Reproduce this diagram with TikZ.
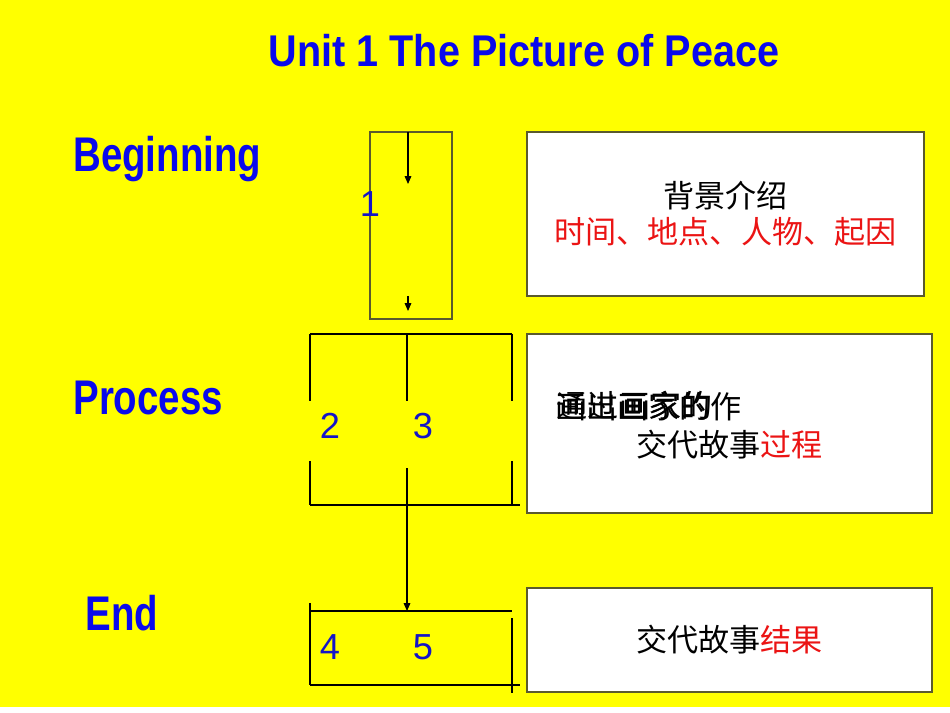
\documentclass[tikz,border=0pt]{standalone}
\usepackage{fontspec}
\setmainfont{Liberation Sans}
\newfontfamily\cjk{Noto Sans CJK SC}
\newfontfamily\titlefont{Liberation Sans}[FakeStretch=0.89]
\newfontfamily\partfont{Liberation Sans}[FakeStretch=0.79]
\usepackage{tikz}
\usetikzlibrary{arrows.meta}
\usetikzlibrary{positioning}

\definecolor{slideyellow}{RGB}{255,255,0}
\definecolor{headblue}{RGB}{10,10,235}
\definecolor{numblue}{RGB}{20,20,200}
\definecolor{frameline}{RGB}{90,90,45}
\definecolor{storyred}{RGB}{235,20,20}

\begin{document}
\begin{tikzpicture}[x=0.2mm,y=-0.2mm]
	\useasboundingbox (0,0) rectangle (950,713);
	\fill[slideyellow] (0,0) rectangle (950,707);
	\fill[white] (0,707) rectangle (950,713);

	% title and parts
	\node[anchor=base, inner sep=0pt, text=headblue,
	      font=\titlefont\bfseries\fontsize{25.3}{30}\selectfont] (title) at (524,67) {Unit 1 The Picture of Peace};
	\begin{scope}[every node/.style={anchor=base west, inner sep=0pt, text=headblue,
	              font=\partfont\bfseries\fontsize{27.7}{32}\selectfont}]
		\node (beginning) at (73,172) {Beginning};
		\node (process) at (73,414) {Process};
		\node (end) at (85,630) {End};
	\end{scope}

	% story boxes
	\begin{scope}[every node/.style={draw=frameline, line width=0.9pt, fill=white,
	              align=center, font=\cjk\fontsize{17.7}{20.4}\selectfont}]
		\node[minimum width=79.4mm, minimum height=32.8mm] (box1) at (725.5,214)
			{背景介绍\\ \textcolor{storyred}{时间、地点、人物、起因}};
		\node[minimum width=81mm, minimum height=35.8mm] (box2) at (729.5,423.5) {};
		\node[minimum width=81mm, minimum height=20.8mm] (box3) at (729.5,640)
			{交代故事\textcolor{storyred}{结果}};
	\end{scope}
	\begin{scope}[every node/.style={inner sep=0pt, font=\cjk\fontsize{17.7}{20.4}\selectfont}]
		\node[anchor=west] (recall1) at (555,407) {画出画家的作};
		\node[anchor=west] (recall2) at (556.5,406) {通过画家的};
		\node (course) at (729.5,445) {交代故事\textcolor{storyred}{过程}};
	\end{scope}

	% left frames
	\coordinate (b1nw) at (370,132);
	\coordinate (b1se) at (452,319);
	\coordinate (a1) at (408,132);
	\coordinate (a1e) at (408,184);
	\coordinate (a2) at (408,296);
	\coordinate (a2e) at (408,311);
	\coordinate (pnw) at (310,334);
	\coordinate (pne) at (512,334);
	\coordinate (pnm) at (407,334);
	\coordinate (pml) at (310,401);
	\coordinate (pmm) at (407,401);
	\coordinate (pmr) at (512,401);
	\coordinate (pbl) at (310,461);
	\coordinate (pbr) at (512,461);
	\coordinate (psw) at (310,505);
	\coordinate (pse) at (512,505);
	\coordinate (pbe) at (520,505);
	\coordinate (pdown) at (407,468);
	\coordinate (enw) at (310,611);
	\coordinate (ene) at (512,611);
	\coordinate (enm) at (407,611);
	\coordinate (elt) at (310,603);
	\coordinate (ert) at (512,618);
	\coordinate (esw) at (310,685);
	\coordinate (ese) at (520,685);
	\coordinate (erb) at (512,693);

	\begin{scope}[frameline, line width=0.6pt]
		\draw (b1nw) rectangle (b1se);
	\end{scope}
	\begin{scope}[black, line width=0.6pt, >={Triangle[length=4.5pt,width=3.8pt]}]
		\draw (pnw) -- (pne);
		\draw (pnw) -- (pml);
		\draw (pbl) -- (psw);
		\draw (pnm) -- (pmm);
		\draw (pne) -- (pmr);
		\draw (pbr) -- (pse);
		\draw (psw) -- (pbe);
		\draw (enw) -- (ene);
		\draw (elt) -- (esw);
		\draw (ert) -- (erb);
		\draw (esw) -- (ese);
		\draw[->] (a1) -- (a1e);
		\draw[->] (a2) -- (a2e);
		\draw[->] (pdown) -- (enm);
	\end{scope}

	% numbers
	\begin{scope}[every node/.style={inner sep=0pt, text=numblue, font=\fontsize{20.6}{24}\selectfont}]
		\node (n1) at (370,204) {1};
		\node (n2) at (330,426) {2};
		\node (n3) at (423,426) {3};
		\node (n4) at (330,647) {4};
		\node (n5) at (423,647) {5};
	\end{scope}
\end{tikzpicture}
\end{document}
